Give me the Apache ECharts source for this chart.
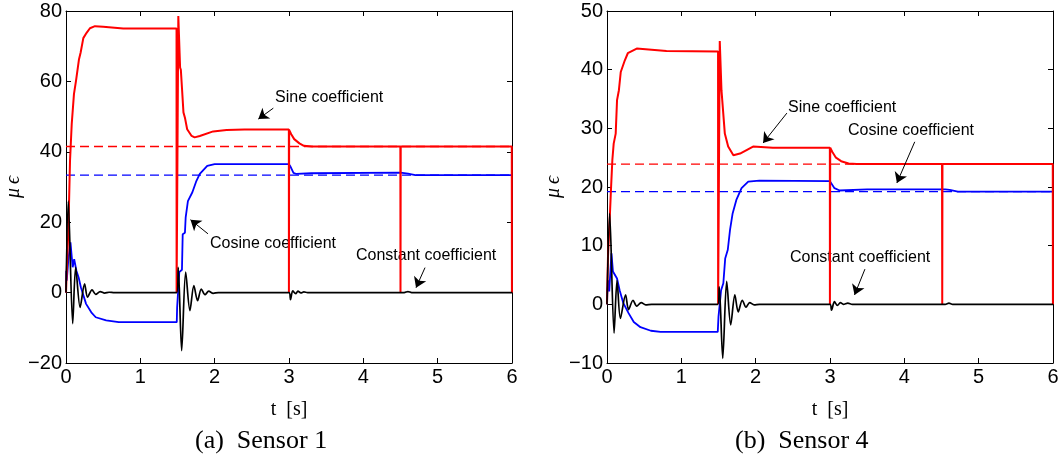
<!DOCTYPE html>
<html>
<head>
<meta charset="utf-8">
<script src="https://cdn.jsdelivr.net/npm/echarts/dist/echarts.min.js"></script>
<style>html,body{margin:0;padding:0;background:#fff}#c{width:1063px;height:461px}</style>
</head>
<body>
<div id="c"></div>
<script>
// ---------- Time axis ----------
const tTicks = [0, 1, 2, 3, 4, 5, 6];
const s1YTicks = [-20, 0, 20, 40, 60, 80];
const s4YTicks = [-10, 0, 10, 20, 30, 40, 50];

// ---------- Sensor 1 ----------
const s1Sine = [[0,0],[0.01,6],[0.032,17.6],[0.054,37.4],[0.077,47.9],[0.107,56.4],[0.134,60.1],[0.175,66.3],[0.197,68.2],[0.233,72.3],[0.277,73.8],[0.322,75.1],[0.39,75.7],[0.5,75.5],[0.77,75],[1.487,75],[1.488,0],[1.505,0],[1.511,78.6],[1.535,63.9],[1.545,63.3],[1.56,58.2],[1.58,51.2],[1.6,49.7],[1.63,46.4],[1.69,44.5],[1.73,44.1],[1.8,44.5],[1.98,45.8],[2.16,46.2],[2.4,46.3],[2.998,46.3],[2.999,0],[3.002,46.2],[3.03,45],[3.07,43.6],[3.14,42.4],[3.2,41.7],[3.31,41.5],[4.498,41.5],[4.5,0],[4.503,41.5],[5.997,41.5],[5.999,0]];
const s1Cos = [[0,0],[0.003,6.2],[0.01,3.4],[0.03,9],[0.06,14.3],[0.09,7.2],[0.11,9.5],[0.14,6.2],[0.17,4.3],[0.2,1.5],[0.27,-3.2],[0.34,-5.6],[0.4,-7],[0.54,-7.9],[0.71,-8.4],[1.49,-8.4],[1.495,-4.2],[1.524,5.8],[1.56,6.5],[1.57,16.6],[1.6,17],[1.61,21.4],[1.64,26],[1.7,28.5],[1.75,31.5],[1.8,33.7],[1.9,36],[2.0,36.5],[2.999,36.5],[3.02,35.8],[3.06,34],[3.1,33.7],[3.3,33.9],[4.5,34.1],[4.6,33.8],[4.7,33.4],[6,33.4]];
const s1Const = [[0,0],[0.031,26],[0.09,-8.8],[0.13,7.2],[0.19,-4.2],[0.25,2.5],[0.29,-1.3],[0.35,0.8],[0.4,-0.5],[0.46,0.3],[0.52,-0.15],[0.58,0.1],[0.65,0],[1.49,0],[1.51,7.2],[1.556,-16.5],[1.61,5.8],[1.667,-5.1],[1.72,2],[1.77,-2.3],[1.82,1],[1.87,-0.6],[1.92,0.4],[1.98,-0.2],[2.05,0],[3.0,0],[3.02,-2],[3.05,0.5],[3.09,-0.3],[3.12,0.4],[3.16,-0.1],[3.2,0.2],[3.25,0],[4.55,0],[4.6,0.3],[4.65,0],[6,0]];
const s1SineRef = [[0,41.5],[6,41.5]];
const s1CosRef = [[0,33.4],[6,33.4]];

// ---------- Sensor 4 ----------
const s4Sine = [[0,0],[0.013,8],[0.036,14.4],[0.055,20],[0.072,24.6],[0.09,27.4],[0.117,29.1],[0.135,34.8],[0.16,36.5],[0.185,39.6],[0.24,41.6],[0.28,42.8],[0.4,43.6],[0.6,43.4],[0.8,43.2],[1.494,43.1],[1.495,0],[1.51,0],[1.517,44.9],[1.54,36.5],[1.585,29.1],[1.63,26.9],[1.7,25.4],[1.79,25.7],[1.965,26.9],[2.23,26.7],[2.998,26.7],[2.999,0],[3.003,26.7],[3.03,26],[3.08,25],[3.15,24.4],[3.25,24],[3.36,23.9],[4.507,23.9],[4.51,0],[4.513,23.9],[5.997,23.9],[5.999,0]];
const s4Cos = [[0,0],[0.005,2.2],[0.02,4.1],[0.03,2.2],[0.06,8.7],[0.08,5.6],[0.1,5.9],[0.135,4.4],[0.17,2.4],[0.22,0.2],[0.29,-1.5],[0.36,-3],[0.45,-3.9],[0.59,-4.5],[0.72,-4.7],[1.49,-4.7],[1.5,-2.1],[1.535,2.4],[1.565,3.6],[1.59,7.8],[1.625,9.3],[1.655,12.7],[1.69,15.5],[1.74,17.8],[1.81,19.8],[1.9,20.9],[2.05,21.1],[2.999,21.0],[3.02,20.8],[3.06,19.8],[3.13,19.4],[3.5,19.6],[4.55,19.6],[4.61,19.5],[4.72,19.2],[6,19.2]];
const s4Const = [[0,0],[0.036,15.5],[0.095,-4.9],[0.135,4.1],[0.18,-2.4],[0.25,1.6],[0.29,-0.9],[0.35,0.7],[0.4,-0.3],[0.46,0.3],[0.52,-0.1],[0.6,0],[1.49,0],[1.51,3],[1.557,-9.2],[1.61,3.9],[1.664,-3.5],[1.72,1.6],[1.765,-1.3],[1.82,0.7],[1.87,-0.5],[1.92,0.3],[1.98,-0.1],[2.05,0],[3.0,0],[3.02,-1],[3.06,0.45],[3.1,-0.2],[3.14,0.3],[3.18,0],[3.24,0.2],[3.3,0],[4.55,0],[4.6,0.2],[4.65,0],[6,0]];
const s4SineRef = [[0,23.9],[6,23.9]];
const s4CosRef = [[0,19.2],[6,19.2]];

// ---------- Annotation arrows (tail -> head, data coords) ----------
const s1Arrows = [[[2.789,52.4],[2.587,49.3]],[[1.91,16.7],[1.675,20.7]],[[4.83,7.1],[4.709,1.4]]];
const s4Arrows = [[[2.42,32.6],[2.10,27.5]],[[4.14,27.7],[3.90,20.7]],[[3.47,6.0],[3.33,1.6]]];
const annoLabels = ['Sine coefficient', 'Cosine coefficient', 'Constant coefficient'];

const RED = '#ff0000', BLUE = '#0000ff', BLACK = '#000000';
const SANS = 'Liberation Sans, Arial, sans-serif';
const SERIF = 'Liberation Serif, Times New Roman, serif';

const chart = echarts.init(document.getElementById('c'), null, {renderer: 'canvas'});

function fmtY(v) { return v < 0 ? '\u2212' + (-v) : String(v); }

function xAxes(grid, ticks) {
  const base = {
    type: 'value', gridIndex: grid, min: ticks[0], max: ticks[ticks.length - 1], interval: ticks[1] - ticks[0],
    axisLine: {show: true, onZero: false, lineStyle: {color: '#000', width: 1}},
    axisTick: {show: true, inside: true, length: 5, lineStyle: {color: '#000'}},
    splitLine: {show: false}
  };
  return [
    Object.assign({}, base, {position: 'bottom', name: 't  [s]', nameLocation: 'middle', nameGap: 37,
      nameTextStyle: {fontFamily: SERIF, fontSize: 20, color: '#000'},
      axisLabel: {show: true, color: '#000', fontFamily: SANS, fontSize: 20, margin: 4}}),
    Object.assign({}, base, {position: 'top', axisLabel: {show: false}})
  ];
}
function yAxes(grid, ticks, gap) {
  const base = {
    type: 'value', gridIndex: grid, min: ticks[0], max: ticks[ticks.length - 1], interval: ticks[1] - ticks[0],
    axisLine: {show: true, onZero: false, lineStyle: {color: '#000', width: 1}},
    axisTick: {show: true, inside: true, length: 5, lineStyle: {color: '#000'}},
    splitLine: {show: false}
  };
  return [
    Object.assign({}, base, {position: 'left', name: '\u03bc\u2009\u03f5', nameLocation: 'middle', nameGap: gap, nameRotate: 90,
      nameTextStyle: {fontFamily: SERIF, fontStyle: 'italic', fontSize: 20, color: '#000'},
      axisLabel: {show: true, color: '#000', fontFamily: SANS, fontSize: 20, margin: 4, formatter: fmtY}}),
    Object.assign({}, base, {position: 'right', axisLabel: {show: false}})
  ];
}

function ln(xi, yi, data, color, width, extra) {
  return Object.assign({
    type: 'line', xAxisIndex: xi, yAxisIndex: yi, data: data, symbol: 'none', showSymbol: false,
    lineStyle: {color: color, width: width}, itemStyle: {color: color}, animation: false, silent: true, z: 2
  }, extra || {});
}
function dashed(xi, yi, data, color) {
  return ln(xi, yi, data, color, 1.3, {lineStyle: {color: color, width: 1.3, type: [9, 5]}, z: 1});
}
function arrowMark(arrows) {
  return {
    silent: true, symbol: ['none', 'arrow'], symbolSize: 10, animation: false, precision: 4,
    lineStyle: {color: '#000', width: 1, type: 'solid'}, itemStyle: {color: '#000'}, label: {show: false},
    emphasis: {disabled: true},
    data: arrows.map(a => [{coord: a[0]}, {coord: a[1]}])
  };
}

const option = {
  backgroundColor: '#fff',
  animation: false,
  grid: [
    {left: 66, top: 11, width: 446, height: 352},
    {left: 607, top: 11, width: 446, height: 352}
  ],
  xAxis: [].concat(xAxes(0, tTicks), xAxes(1, tTicks)),
  yAxis: [].concat(yAxes(0, s1YTicks, 41), yAxes(1, s4YTicks, 43)),
  series: [
    dashed(0, 0, s1SineRef, RED),
    dashed(0, 0, s1CosRef, BLUE),
    ln(0, 0, s1Cos, BLUE, 1.8),
    ln(0, 0, s1Sine, RED, 2),
    ln(0, 0, s1Const, BLACK, 1.7, {smooth: 0.3, markLine: arrowMark(s1Arrows)}),
    dashed(2, 2, s4SineRef, RED),
    dashed(2, 2, s4CosRef, BLUE),
    ln(2, 2, s4Cos, BLUE, 1.8),
    ln(2, 2, s4Sine, RED, 2),
    ln(2, 2, s4Const, BLACK, 1.7, {smooth: 0.3, markLine: arrowMark(s4Arrows)})
  ],
  graphic: [
    {type: 'text', left: 275, top: 90, style: {text: annoLabels[0], font: '16px ' + SANS, fill: '#000'}},
    {type: 'text', left: 210, top: 236, style: {text: annoLabels[1], font: '16px ' + SANS, fill: '#000'}},
    {type: 'text', left: 356, top: 248, style: {text: annoLabels[2], font: '16px ' + SANS, fill: '#000'}},
    {type: 'text', left: 788, top: 100, style: {text: annoLabels[0], font: '16px ' + SANS, fill: '#000'}},
    {type: 'text', left: 848, top: 123, style: {text: annoLabels[1], font: '16px ' + SANS, fill: '#000'}},
    {type: 'text', left: 790, top: 250, style: {text: annoLabels[2], font: '16px ' + SANS, fill: '#000'}},
    {type: 'text', left: 195, top: 428, style: {text: '(a)  Sensor 1', font: '26px ' + SERIF, fill: '#000'}},
    {type: 'text', left: 735, top: 428, style: {text: '(b)  Sensor 4', font: '26px ' + SERIF, fill: '#000'}}
  ]
};
chart.setOption(option);
</script>
</body>
</html>
